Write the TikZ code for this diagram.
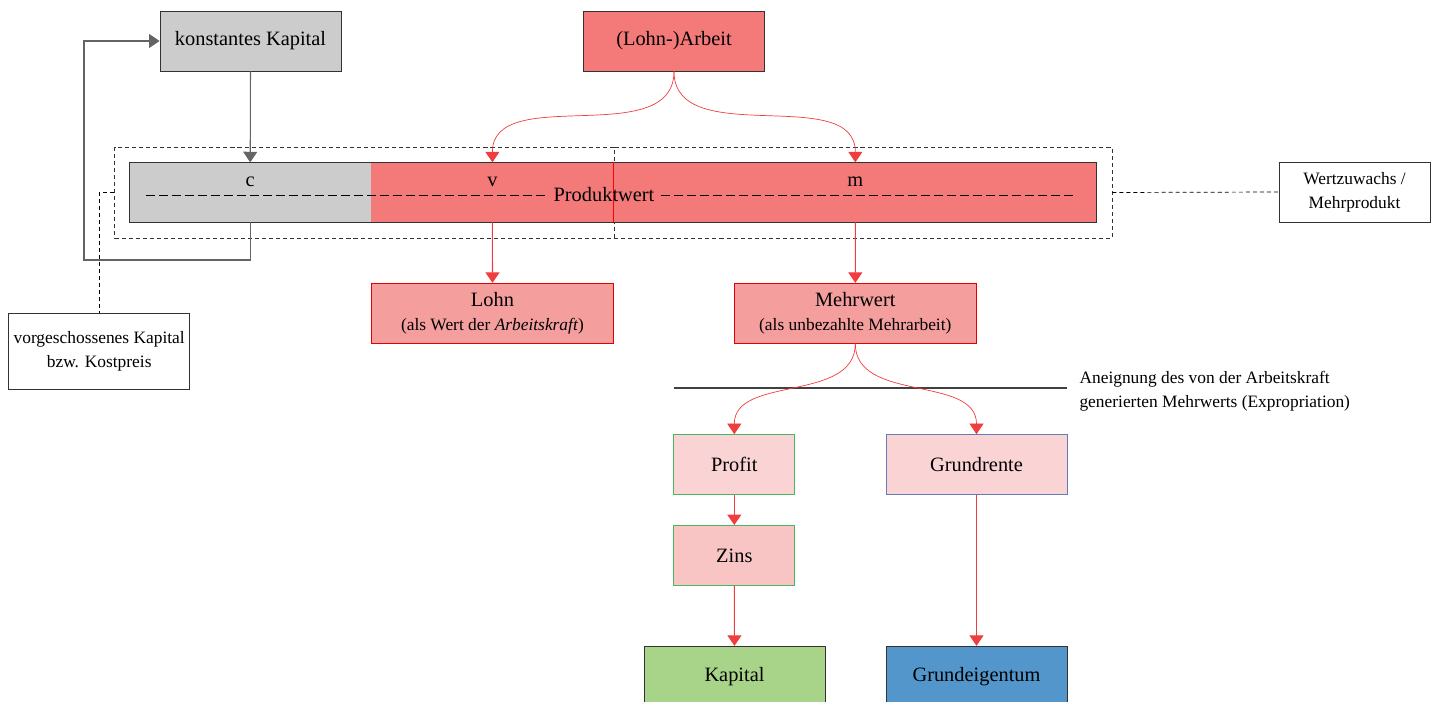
\documentclass[tikz,border=0pt]{standalone}
\usepackage{fontspec}
\setmainfont{Liberation Serif}
\usepackage{tikz}
\usetikzlibrary{positioning,arrows.meta}
\usepackage{xcolor}
\newcommand{\diagfont}{\fontsize{11.6pt}{15pt}\selectfont}
\newcommand{\diagsmall}{\fontsize{9.9pt}{13.6pt}\selectfont}
\definecolor{greyfill}{RGB}{204,204,204}
\definecolor{redfill}{RGB}{244,122,122}
\definecolor{lohnfill}{RGB}{245,158,158}
\definecolor{palefill}{RGB}{250,212,212}
\definecolor{zinsfill}{RGB}{248,196,196}
\definecolor{kapfill}{RGB}{168,212,138}
\definecolor{bodenfill}{RGB}{82,150,204}
\definecolor{redline}{RGB}{240,62,62}
\definecolor{greyline}{RGB}{100,100,100}
\definecolor{greenline}{RGB}{70,185,95}
\definecolor{blueline}{RGB}{95,125,185}
\definecolor{boxline}{RGB}{50,50,50}
\tikzstyle{redarrow} = [draw=redline, ->]
\tikzset{
  box/.style={
    rectangle,
    minimum width=3.62cm,
    minimum height=1.2cm,
    inner sep=0pt,
    align=center,
    draw=boxline,
    line width=0.5pt,
    font=\diagfont
    },
  greybox/.style={box, fill=greyfill},
  redbox/.style={box, fill=redfill},
  valuebox/.style={
    box,
    minimum width=4.84cm,
    fill=lohnfill,
    draw=red!90!black
    },
  palebox/.style={box, fill=palefill},
  notebox/.style={
    box,
    fill=white,
    font=\diagsmall
    },
  part/.style={
    rectangle,
    minimum height=1.2cm,
    inner sep=0pt,
    outer sep=0pt
    },
  bracket/.style={
    rectangle,
    draw=black!80,
    thin,
    dash pattern=on 2.3pt off 1.7pt,
    minimum height=1.82cm,
    inner sep=0pt
    },
  noteline/.style={draw=black, thin, dash pattern=on 2.3pt off 1.7pt},
  pwline/.style={draw=black, line width=0.45pt, dash pattern=on 5.1pt off 2.3pt},
  greyarrow/.style={draw=greyline, ->},
  redcurve/.style={draw=redline, thin, ->},
  cutline/.style={draw=black!75, semithick},
  annot/.style={align=left, anchor=west, inner sep=0pt, font=\diagsmall},
}

\begin{document}
\begin{tikzpicture}[
    x = 0.02cm, y = 0.02cm, % one unit per pixel
    > = {Triangle[width=8pt,length=6pt]}, % arrow head style
    semithick % line style
  ]
  \useasboundingbox (0,0) rectangle (1440,-702);

  % top row
  \node[greybox] (kk) at (250.5,-41) {konstantes Kapital};
  \node[redbox] (arbeit) at (674,-41) {(Lohn-)Arbeit};

  % dashed brackets round the bar
  \node[bracket, minimum width=9.99cm] (vorgbr) at (364.25,-192.5) {};
  \node[bracket, minimum width=9.96cm] (mehrbr) at (863,-192.5) {};

  % the bar
  \node[part, fill=greyfill, minimum width=4.83cm] (c) at (250.2,-192.3) {};
  \node[part, fill=redfill, minimum width=4.86cm, right=0pt of c] (v) {};
  \node[part, fill=redfill, minimum width=9.66cm, right=0pt of v] (m) {};
  \draw[boxline, line width=0.5pt] (c.north west) rectangle (m.south east);
  \draw[red] (v.north east) -- (v.south east);
  \node[anchor=base, font=\diagfont] (cl) at ([yshift=-0.48cm]c.north) {c};
  \node[anchor=base, font=\diagfont] (vl) at ([yshift=-0.48cm]v.north) {v};
  \node[anchor=base, font=\diagfont] (ml) at ([yshift=-0.48cm]m.north) {m};

  \node[inner sep=3.5pt, font=\diagfont] (pw) at (604,-195) {Produktwert};
  \coordinate (pwL) at (145.7,-195);
  \coordinate (pwR) at (1075,-195);
  \draw[pwline] (pwL) -- (pw.west) (pw.east) -- (pwR);

  % constant capital loop
  \coordinate (loop) at (84,-260);
  \draw[greyarrow] (kk.south) -- (c.north);
  \draw[greyarrow] (c.south) |- (loop) |- (kk.west);

  % labour splits into v and m
  \draw[redcurve] (arbeit.south) to[out=-90,in=90] (v.north);
  \draw[redcurve] (arbeit.south) to[out=-90,in=90] (m.north);

  \node[valuebox] (lohn) at (492.5,-313.3) {Lohn\\[-1.5pt]{\diagsmall (als Wert der \textit{Arbeitskraft})}};
  \node[valuebox] (mw) at (855.3,-313.3) {Mehrwert\\[-1.5pt]{\diagsmall (als unbezahlte Mehrarbeit)}};
  \draw[redarrow] (v.south) -- (lohn.north);
  \draw[redarrow] (m.south) -- (mw.north);

  % appropriation
  \coordinate (cutL) at (673.5,-388);
  \coordinate (cutR) at (1067,-388);
  \draw[cutline] (cutL) -- (cutR);
  \node[annot] (aneig) at (1079,-391) {Aneignung des von der Arbeitskraft\\generierten Mehrwerts (Expropriation)};

  \node[palebox, draw=greenline, minimum width=2.42cm] (profit) at (734.3,-464.6) {Profit};
  \node[palebox, draw=blueline] (rente) at (976.5,-464.6) {Grundrente};
  \node[box, fill=zinsfill, draw=greenline, minimum width=2.42cm] (zins) at (734.3,-555.5) {Zins};
  \node[box, fill=kapfill] (kapital) at (734.5,-676.3) {Kapital};
  \node[box, fill=bodenfill] (boden) at (976.5,-676.3) {Grundeigentum};

  \draw[redcurve] (mw.south) to[out=-90,in=90] (profit.north);
  \draw[redcurve] (mw.south) to[out=-90,in=90] (rente.north);
  \draw[redarrow] (profit) -- (zins);
  \draw[redarrow] (zins) -- (kapital);
  \draw[redarrow] (rente) -- (boden);

  % notes
  \node[notebox, minimum height=1.52cm] (vorg) at (99.2,-351) {vorgeschossenes Kapital\\bzw. Kostpreis};
  \node[notebox, minimum width=3.02cm] (wert) at (1354.5,-192) {Wertzuwachs /\\Mehrprodukt};
  \draw[noteline] (vorgbr.west) -| (vorg.north);
  \draw[noteline] (mehrbr.east) -- (wert.west);
\end{tikzpicture}
\end{document}
